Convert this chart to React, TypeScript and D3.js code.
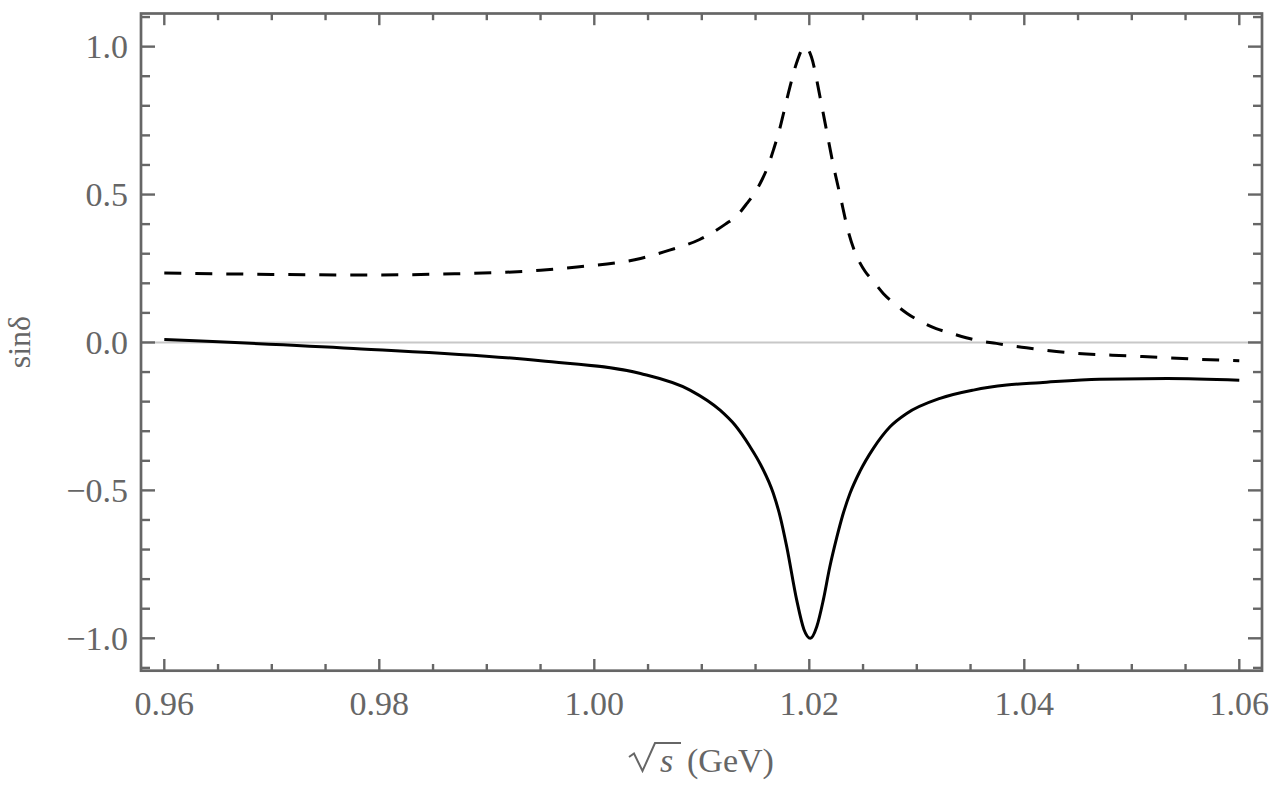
import React, { useEffect, useRef } from 'react';
import * as d3 from 'd3';

// solid curve
const solidX = [0.96, 0.9776, 0.995, 1.0043, 1.0089, 1.0117, 1.0131, 1.01445, 1.0155, 1.01665, 1.0173, 1.0179, 1.01883, 1.0195, 1.0201, 1.0207, 1.0213, 1.0219, 1.02255, 1.0231, 1.02379, 1.02472, 1.02596, 1.02751, 1.02906, 1.03216, 1.03526, 1.03836, 1.04146, 1.047, 1.0533, 1.06];
const solidY = [0.01, -0.02, -0.062, -0.105, -0.161, -0.229, -0.28, -0.35, -0.415, -0.51, -0.59, -0.69, -0.871, -0.97, -1.0, -0.96, -0.871, -0.76, -0.66, -0.585, -0.51, -0.435, -0.358, -0.285, -0.24, -0.189, -0.161, -0.144, -0.136, -0.124, -0.122, -0.128];

// dashed curve
const dashedX = [0.96, 0.97, 0.978, 0.987, 0.995, 0.9984, 1.0043, 1.007, 1.0098, 1.0122, 1.0133, 1.0142, 1.0149, 1.0156, 1.0162, 1.0167, 1.0172, 1.0176, 1.0182, 1.0188, 1.0196, 1.0202, 1.021, 1.0216, 1.0222, 1.0229, 1.0236, 1.0242, 1.0247, 1.0252, 1.026, 1.0269, 1.0278, 1.0291, 1.0303, 1.0318, 1.0331, 1.0346, 1.0359, 1.0374, 1.0387, 1.0402, 1.0439, 1.0501, 1.0584, 1.06];
const dashedY = [0.235, 0.23, 0.228, 0.232, 0.244, 0.255, 0.284, 0.312, 0.348, 0.4, 0.43, 0.47, 0.505, 0.55, 0.6, 0.655, 0.715, 0.774, 0.864, 0.943, 1.0, 0.965, 0.83, 0.717, 0.605, 0.492, 0.379, 0.31, 0.27, 0.24, 0.205, 0.165, 0.135, 0.098, 0.072, 0.047, 0.032, 0.016, 0.005, -0.003, -0.011, -0.018, -0.034, -0.046, -0.06, -0.062];

const xTicks = [0.96, 0.98, 1.0, 1.02, 1.04, 1.06];
const yTicks = [-1.0, -0.5, 0.0, 0.5, 1.0];

const W = 1280;
const H = 787;
const FONT = '"Liberation Serif", "Times New Roman", serif';
const FRAME = '#666666';

export default function App() {
  const svgRef = useRef<SVGSVGElement>(null);

  useEffect(() => {
    if (!svgRef.current) return;
    const svg = d3.select(svgRef.current);
    svg.selectAll('*').remove();

    const left = 141, right = 1262, top = 13.5, bottom = 670.7;

    const x = d3.scaleLinear().domain([0.957833, 1.062112]).range([left, right]);
    const y = d3.scaleLinear().domain([-1.1095, 1.112]).range([bottom, top]);

    // zero line
    svg.append('line')
      .attr('x1', left).attr('x2', right)
      .attr('y1', y(0)).attr('y2', y(0))
      .attr('stroke', '#c8c8c8').attr('stroke-width', 2);

    const line = d3.line<[number, number]>()
      .x(d => x(d[0]))
      .y(d => y(d[1]))
      .curve(d3.curveMonotoneX);

    svg.append('path')
      .datum(dashedX.map((v, i) => [v, dashedY[i]] as [number, number]))
      .attr('d', line)
      .attr('fill', 'none')
      .attr('stroke', '#000')
      .attr('stroke-width', 3)
      .attr('stroke-dasharray', '17,14');

    svg.append('path')
      .datum(solidX.map((v, i) => [v, solidY[i]] as [number, number]))
      .attr('d', line)
      .attr('fill', 'none')
      .attr('stroke', '#000')
      .attr('stroke-width', 3);

    // frame
    svg.append('rect')
      .attr('x', left).attr('y', top)
      .attr('width', right - left).attr('height', bottom - top)
      .attr('fill', 'none')
      .attr('stroke', FRAME)
      .attr('stroke-width', 2.7);

    const ticks = svg.append('g').attr('stroke', FRAME).attr('stroke-width', 2.4);

    // x ticks, bottom and top
    const xMinor = d3.range(0.96, 1.0601, 0.005).filter(v => !xTicks.some(t => Math.abs(t - v) < 1e-6));
    const xAll = [...xTicks.map(v => ({ v, len: 11.7 })), ...xMinor.map(v => ({ v, len: 6.7 }))];
    xAll.forEach(t => {
      ticks.append('line').attr('x1', x(t.v)).attr('x2', x(t.v)).attr('y1', bottom).attr('y2', bottom - t.len);
      ticks.append('line').attr('x1', x(t.v)).attr('x2', x(t.v)).attr('y1', top).attr('y2', top + t.len);
    });

    // y ticks, left and right
    const yMinor = d3.range(-11, 12, 1).map(k => k / 10).filter(v => !yTicks.some(t => Math.abs(t - v) < 1e-6));
    const yAll = [...yTicks.map(v => ({ v, len: 14 })), ...yMinor.map(v => ({ v, len: 9 }))];
    yAll.forEach(t => {
      ticks.append('line').attr('x1', left).attr('x2', left + t.len).attr('y1', y(t.v)).attr('y2', y(t.v));
      ticks.append('line').attr('x1', right).attr('x2', right - t.len).attr('y1', y(t.v)).attr('y2', y(t.v));
    });

    // tick labels
    const fmt = d3.format('.2f');
    svg.append('g').selectAll('text')
      .data(xTicks)
      .enter()
      .append('text')
      .attr('x', d => x(d))
      .attr('y', 715)
      .attr('text-anchor', 'middle')
      .attr('font-family', FONT)
      .attr('font-size', 34)
      .attr('fill', FRAME)
      .text(d => fmt(d));

    const fmtY = d3.format('.1f');
    svg.append('g').selectAll('text')
      .data(yTicks)
      .enter()
      .append('text')
      .attr('x', 128)
      .attr('y', d => y(d))
      .attr('dy', '0.34em')
      .attr('text-anchor', 'end')
      .attr('font-family', FONT)
      .attr('font-size', 34)
      .attr('fill', FRAME)
      .text(d => fmtY(d).replace('-', '\u2212'));

    // y title
    svg.append('text')
      .attr('transform', `translate(30,${(top + bottom) / 2}) rotate(-90)`)
      .attr('text-anchor', 'middle')
      .attr('font-family', FONT)
      .attr('font-size', 32)
      .attr('fill', FRAME)
      .text('sin\u03b4');

    // x title: sqrt(s) (GeV)
    const xt = svg.append('g').attr('font-family', FONT).attr('font-size', 34).attr('fill', FRAME);
    xt.append('path')
      .attr('d', 'M629,757 L634,753.5 L642.5,771 L655,743 L681,743')
      .attr('fill', 'none')
      .attr('stroke', FRAME)
      .attr('stroke-width', 2)
      .attr('stroke-linejoin', 'miter');
    xt.append('text').attr('x', 660).attr('y', 772).attr('font-style', 'italic').text('s');
    xt.append('text').attr('x', 687).attr('y', 772).text('(GeV)');
  }, []);

  return (
    <svg
      ref={svgRef}
      width={W}
      height={H}
      style={{ position: 'absolute', left: 0, top: 0, background: '#fff' }}
    />
  );
}
